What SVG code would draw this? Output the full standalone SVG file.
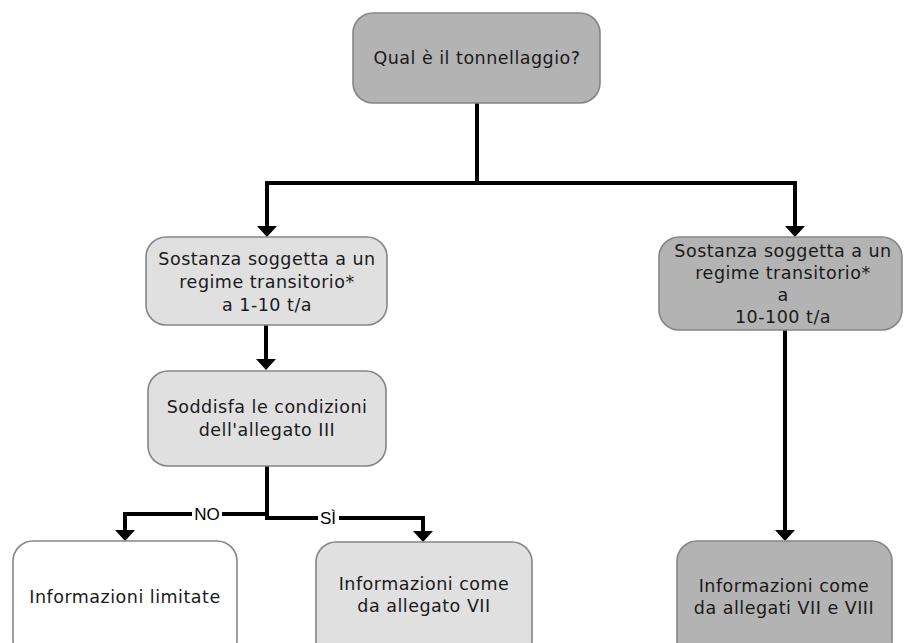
<svg xmlns="http://www.w3.org/2000/svg" width="904" height="643" viewBox="0 0 904 643">
<style>
.box{stroke:#858585;stroke-width:1.6}
.dark{fill:#b3b3b3}
.light{fill:#e0e0e0}
.white{fill:#ffffff}
.t{font-family:"DejaVu Sans",Verdana,sans-serif;font-size:17.5px;letter-spacing:0.5px;fill:#1a1a1a;text-anchor:middle}
.c{fill:none;stroke:#000;stroke-width:4;stroke-linejoin:miter}
.lbl{font-family:"Liberation Sans",Arial,sans-serif;font-size:17px;fill:#000;text-anchor:middle}
</style>
<defs>
<marker id="ah" markerUnits="userSpaceOnUse" viewBox="0 -10 11 20" refX="0" refY="0" markerWidth="11" markerHeight="20" orient="auto">
<path d="M0,-10 L11,0 L0,10 z" fill="#000"/>
</marker>
</defs>
<rect width="904" height="643" fill="#fff"/>
<g id="connectors">
<path class="c" d="M477,103 V183"/>
<path class="c" d="M479,183 H267 V226" marker-end="url(#ah)"/>
<path class="c" d="M475,183 H795 V226" marker-end="url(#ah)"/>
<path class="c" d="M266,325 V359" marker-end="url(#ah)"/>
<path class="c" d="M267,466 V518"/>
<path class="c" d="M269,514 H125 V530" marker-end="url(#ah)"/>
<path class="c" d="M265,518 H423 V531" marker-end="url(#ah)"/>
<path class="c" d="M785,330 V530" marker-end="url(#ah)"/>
<rect x="192" y="505" width="30" height="18" fill="#fff"/>
<rect x="318" y="508" width="21" height="18" fill="#fff"/>
<text class="lbl" x="207" y="520">NO</text>
<text class="lbl" x="328" y="524">SÌ</text>
</g>
<g id="n_top">
<rect class="box dark" x="353" y="13" width="247" height="90" rx="20"/>
<text class="t" x="477" y="64">Qual è il tonnellaggio?</text>
</g>
<g id="n_left1">
<rect class="box light" x="146" y="237" width="241" height="88" rx="20"/>
<text class="t" x="267" y="265">Sostanza soggetta a un</text>
<text class="t" x="267" y="288">regime transitorio*</text>
<text class="t" x="267" y="311">a 1-10 t/a</text>
</g>
<g id="n_left2">
<rect class="box light" x="148" y="371" width="238" height="95" rx="20"/>
<text class="t" x="267" y="413">Soddisfa le condizioni</text>
<text class="t" x="267" y="436">dell'allegato III</text>
</g>
<g id="n_limited">
<rect class="box white" x="13" y="541" width="224" height="120" rx="20"/>
<text class="t" x="125" y="603">Informazioni limitate</text>
</g>
<g id="n_vii">
<rect class="box light" x="316" y="542" width="216" height="120" rx="20"/>
<text class="t" x="424" y="590">Informazioni come</text>
<text class="t" x="424" y="612">da allegato VII</text>
</g>
<g id="n_right1">
<rect class="box dark" x="659" y="237" width="243" height="93" rx="20"/>
<text class="t" x="783" y="257">Sostanza soggetta a un</text>
<text class="t" x="783" y="279">regime transitorio*</text>
<text class="t" x="783" y="301">a</text>
<text class="t" x="783" y="323">10-100 t/a</text>
</g>
<g id="n_viii">
<rect class="box dark" x="677" y="541" width="215" height="120" rx="20"/>
<text class="t" x="784" y="592">Informazioni come</text>
<text class="t" x="784" y="614">da allegati VII e VIII</text>
</g>
</svg>
